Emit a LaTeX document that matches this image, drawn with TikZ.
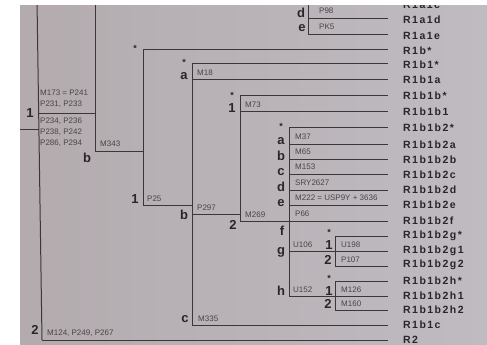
\documentclass[tikz,border=0pt]{standalone}
\usepackage{fontspec}
\setmainfont{Liberation Sans}
\newfontfamily\labfont[LetterSpace=14]{Liberation Sans}
\definecolor{bgl}{HTML}{B3ABAE}
\definecolor{bgr}{HTML}{BFBBC1}
\definecolor{linec}{HTML}{3C3639}
\definecolor{labc}{HTML}{2A2527}
\definecolor{mkc}{HTML}{4A4447}
\tikzset{
  br/.style={draw=linec, line width=1pt},
  tolab/.style={br, shorten >=15pt},
  leaf/.style={anchor=west, font=\labfont\bfseries\fontsize{10.5}{12}\selectfont, text=labc, inner sep=0pt},
  mk/.style={anchor=west, font=\fontsize{8}{9}\selectfont, text=mkc, inner sep=0pt},
  clab/.style={font=\bfseries\fontsize{13}{14}\selectfont, text=labc, inner sep=0pt},
  astk/.style={font=\bfseries\fontsize{9}{9}\selectfont, text=labc, inner sep=0pt},
}
\begin{document}
\begin{tikzpicture}[x=1pt,y=-1pt]
\useasboundingbox (0,0) rectangle (487,345);
\fill[white] (0,0) rectangle (487,345);
\shade[left color=bgl, right color=bgr] (20,6) rectangle (487,345);
\begin{scope}
\clip (20,6) rectangle (487,345);
% leaf labels
\node[leaf] (Lc)   at (403,4.5) {R1a1c};
\node[leaf] (Ld)   at (403,19.5) {R1a1d};
\node[leaf] (Le)   at (403,35.5) {R1a1e};
\node[leaf] (Lbs)  at (403,50.5) {R1b*};
\node[leaf] (Lb1s) at (403,65) {R1b1*};
\node[leaf] (Lb1a) at (403,80) {R1b1a};
\node[leaf] (Lbbs) at (403,96) {R1b1b*};
\node[leaf] (Lbb1) at (403,112) {R1b1b1};
\node[leaf] (L2s)  at (403,128) {R1b1b2*};
\node[leaf] (L2a)  at (403,144.5) {R1b1b2a};
\node[leaf] (L2b)  at (403,159.5) {R1b1b2b};
\node[leaf] (L2c)  at (403,174.5) {R1b1b2c};
\node[leaf] (L2d)  at (403,190) {R1b1b2d};
\node[leaf] (L2e)  at (403,205) {R1b1b2e};
\node[leaf] (L2f)  at (403,220.5) {R1b1b2f};
\node[leaf] (L2gs) at (403,235.5) {R1b1b2g*};
\node[leaf] (L2g1) at (403,250.5) {R1b1b2g1};
\node[leaf] (L2g2) at (403,265) {R1b1b2g2};
\node[leaf] (L2hs) at (403,280.5) {R1b1b2h*};
\node[leaf] (L2h1) at (403,295.5) {R1b1b2h1};
\node[leaf] (L2h2) at (403,310) {R1b1b2h2};
\node[leaf] (Lb1c) at (403,325) {R1b1c};
\node[leaf] (LR2)  at (403,340) {R2};
% junction coordinates
\coordinate (rT) at (37,0);
\coordinate (rB) at (42,340);
\coordinate (r1j) at (38.7,113);
\coordinate (rst) at (38.9,129);
\coordinate (rsl) at (18,129);
\coordinate (v1T) at (95,0);
\coordinate (v1j) at (95,113);
\coordinate (v1B) at (95,151);
\coordinate (vbT) at (143,50);
\coordinate (vbj) at (143,151);
\coordinate (vbB) at (143,205);
\coordinate (vb1T) at (192,64);
\coordinate (vb1a) at (192,79);
\coordinate (vb1j) at (192,205);
\coordinate (vb1b) at (192,214);
\coordinate (vb1B) at (192,325);
\coordinate (vbbT) at (240,95);
\coordinate (vbb1) at (240,111);
\coordinate (vbbj) at (240,214);
\coordinate (vbbB) at (240,221);
\coordinate (v2T) at (289,127);
\coordinate (v2a) at (289,144);
\coordinate (v2b) at (289,159);
\coordinate (v2c) at (289,174);
\coordinate (v2d) at (289,190);
\coordinate (v2e) at (289,205);
\coordinate (v2g) at (289,251);
\coordinate (v2B) at (289,296);
\coordinate (vgT) at (335,236);
\coordinate (vgj) at (335,251);
\coordinate (vgB) at (335,266);
\coordinate (vhT) at (335,281);
\coordinate (vhj) at (335,296);
\coordinate (vhB) at (335,310);
\coordinate (vaT) at (308,0);
\coordinate (vad) at (308,19);
\coordinate (vaB) at (308,35);
% verticals
\draw[br] (rT) -- (rB);
\draw[br] (v1T) -- (v1B);
\draw[br] (vbT) -- (vbB);
\draw[br] (vb1T) -- (vb1B);
\draw[br] (vbbT) -- (vbbB);
\draw[br] (v2T) -- (v2B);
\draw[br] (vgT) -- (vgB);
\draw[br] (vhT) -- (vhB);
\draw[br] (vaT) -- (vaB);
% internal horizontals
\draw[br] (rsl) -- (rst);
\draw[br] (r1j) -- (v1j);
\draw[br] (v1B) -- (vbj);
\draw[br] (vbB) -- (vb1j);
\draw[br] (vb1b) -- (vbbj);
% horizontals to leaves
\draw[tolab] (vad) -- (vad -| Ld.west);
\draw[tolab] (vaB) -- (vaB -| Le.west);
\draw[tolab] (vbT) -- (vbT -| Lbs.west);
\draw[tolab] (vb1T) -- (vb1T -| Lb1s.west);
\draw[tolab] (vb1a) -- (vb1a -| Lb1a.west);
\draw[tolab] (vbbT) -- (vbbT -| Lbbs.west);
\draw[tolab] (vbb1) -- (vbb1 -| Lbb1.west);
\draw[tolab] (v2T) -- (v2T -| L2s.west);
\draw[tolab] (v2a) -- (v2a -| L2a.west);
\draw[tolab] (v2b) -- (v2b -| L2b.west);
\draw[tolab] (v2c) -- (v2c -| L2c.west);
\draw[tolab] (v2d) -- (v2d -| L2d.west);
\draw[tolab] (v2e) -- (v2e -| L2e.west);
\draw[tolab] (vbbB) -- (vbbB -| L2f.west);
\draw[tolab] (vgT) -- (vgT -| L2gs.west);
\draw[tolab] (v2g) -- (v2g -| L2g1.west);
\draw[tolab] (vgB) -- (vgB -| L2g2.west);
\draw[tolab] (vhT) -- (vhT -| L2hs.west);
\draw[tolab] (v2B) -- (v2B -| L2h1.west);
\draw[tolab] (vhB) -- (vhB -| L2h2.west);
\draw[tolab] (vb1B) -- (vb1B -| Lb1c.west);
\draw[tolab] (rB) -- (rB -| LR2.west);
% marker texts
\node[mk] (m1a) at (40,93) {M173 = P241};
\node[mk] (m1b) at (40,104) {P231, P233};
\node[mk] (m1c) at (40,121) {P234, P236};
\node[mk] (m1d) at (40,132) {P238, P242};
\node[mk] (m1e) at (40,143) {P286, P294};
\node[mk] (m343) at (100,144) {M343};
\node[mk] (p25) at (147,199) {P25};
\node[mk] (m18) at (197,73) {M18};
\node[mk] (p297) at (197,208) {P297};
\node[mk] (m335) at (198,319) {M335};
\node[mk] (m73) at (245,105) {M73};
\node[mk] (m269) at (245,215) {M269};
\node[mk] (m37) at (295,137) {M37};
\node[mk] (m65) at (295,152) {M65};
\node[mk] (m153) at (295,167) {M153};
\node[mk] (sry) at (295,183) {SRY2627};
\node[mk] (m222) at (295,198) {M222 = USP9Y + 3636};
\node[mk] (p66) at (295,214) {P66};
\node[mk] (u106) at (293,245) {U106};
\node[mk] (u152) at (293,290) {U152};
\node[mk] (u198) at (341,245) {U198};
\node[mk] (p107) at (341,260) {P107};
\node[mk] (m126) at (341,290) {M126};
\node[mk] (m160) at (341,304) {M160};
\node[mk] (p98) at (319,11) {P98};
\node[mk] (pk5) at (319,27) {PK5};
\node[mk] (m124) at (47,333) {M124, P249, P267};
% clade letters
\node[clab] (c1) at (30,113) {1};
\node[clab] (c2) at (35,330) {2};
\node[clab] (cb) at (87,158) {b};
\node[astk] (sb) at (135,48) {*};
\node[clab] (cb1) at (135,199) {1};
\node[astk] (sb1) at (184,62) {*};
\node[clab] (cb1a) at (184,76) {a};
\node[clab] (cb1b) at (184,215) {b};
\node[clab] (cb1c) at (185,319) {c};
\node[astk] (sbb) at (232,95) {*};
\node[clab] (cbb1) at (232,108) {1};
\node[clab] (cbb2) at (233,225) {2};
\node[astk] (s2) at (281,126) {*};
\node[clab] (c2a) at (281,141) {a};
\node[clab] (c2b) at (281,156) {b};
\node[clab] (c2c) at (281,172) {c};
\node[clab] (c2d) at (281,187) {d};
\node[clab] (c2e) at (281,203) {e};
\node[clab] (c2f) at (282,231) {f};
\node[clab] (c2g) at (281,252) {g};
\node[clab] (c2h) at (281,291) {h};
\node[astk] (sg) at (329,232) {*};
\node[clab] (cg1) at (329,245) {1};
\node[clab] (cg2) at (328,260) {2};
\node[astk] (sh) at (329,278) {*};
\node[clab] (ch1) at (329,291) {1};
\node[clab] (ch2) at (328,304) {2};
\node[clab] (cad) at (301,13) {d};
\node[clab] (cae) at (302,28) {e};
\end{scope}
\end{tikzpicture}
\end{document}
